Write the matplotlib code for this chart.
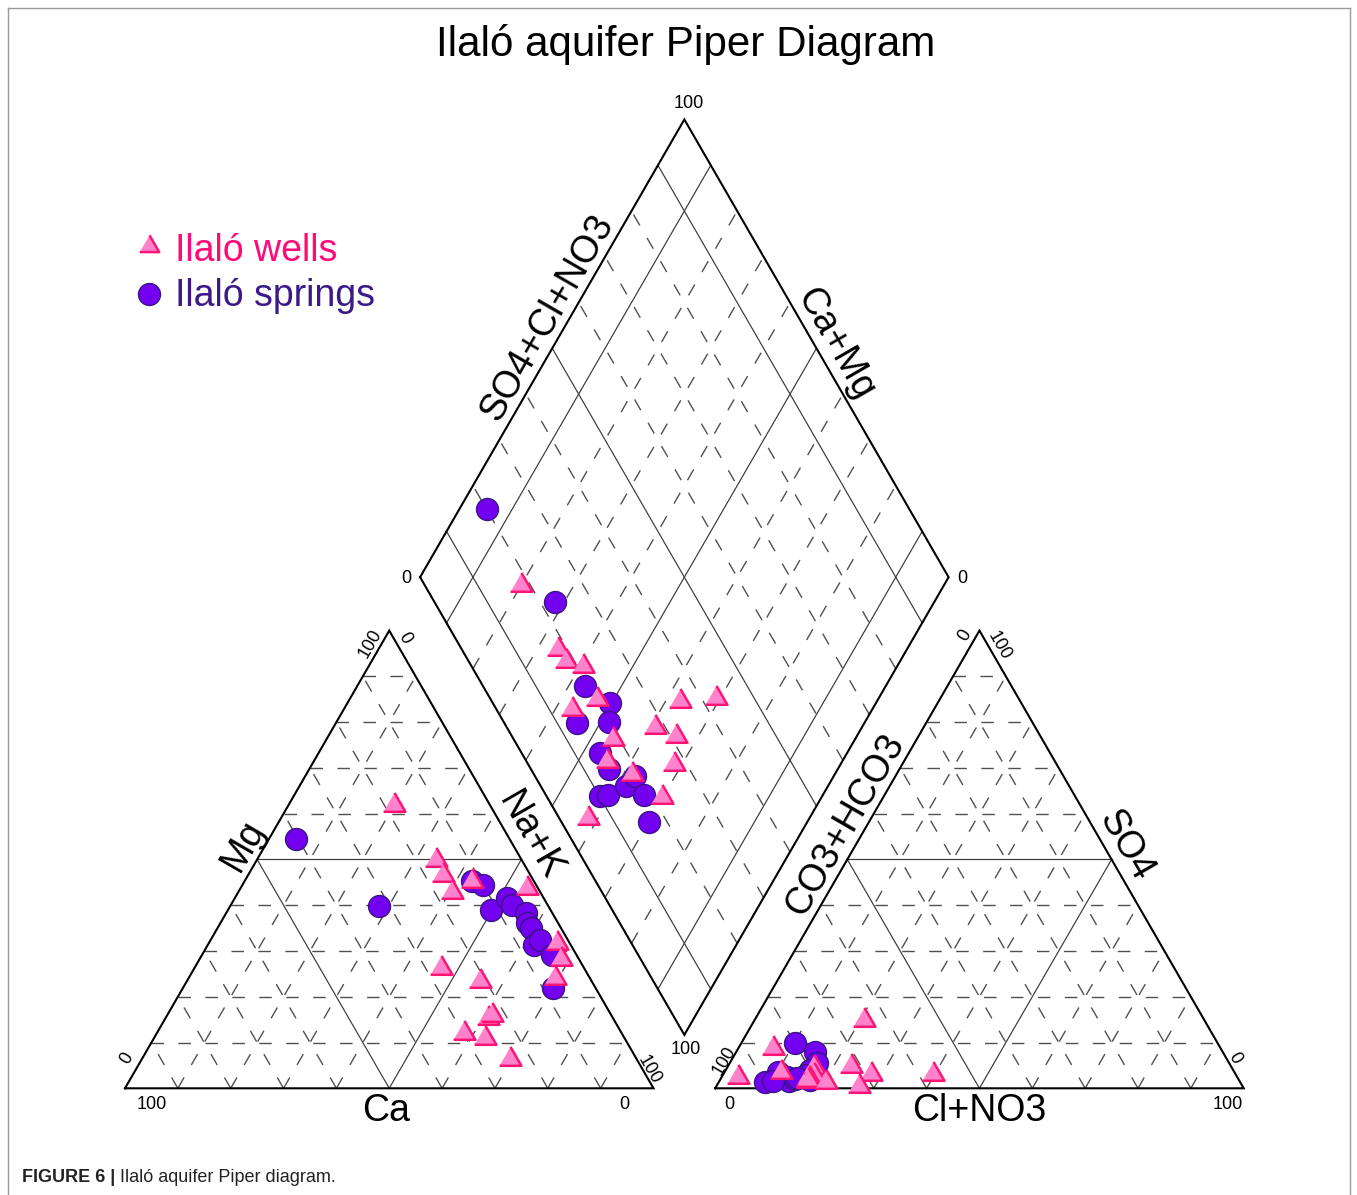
import matplotlib
matplotlib.use("Agg")
import matplotlib.pyplot as plt
import numpy as np

plt.rcParams['font.family'] = ['Liberation Sans', 'DejaVu Sans']
plt.rcParams['lines.scale_dashes'] = False

# ---------------- data (meq %) ----------------
wells_ca   = [18.1, 16.3, 16.6, 16.7, 11.7, 27.1, 2.1, 21.1, 29.9, 23.7, 22.5, 26.5, 2.4, 3.4, 6.7, 24.0]
wells_mg   = [61.9, 49.8, 46.6, 42.8, 45.2, 26.2, 43.7, 23.5, 12.0, 15.4, 16.0, 10.9, 31.8, 28.2, 24.0, 6.3]
wells_nak  = [20.0, 33.9, 36.8, 40.5, 43.1, 46.7, 54.2, 55.4, 58.1, 60.9, 61.5, 62.6, 65.8, 68.4, 69.3, 69.7]
wells_hco3 = [81.7, 81.9, 81.6, 78.9, 85.8, 79.9, 81.2, 84.8, 94.5, 71.9, 81.5, 64.4, 69.0, 72.5, 57.2, 78.3]
wells_so4  = [2.0, 1.5, 1.8, 4.7, 3.5, 3.0, 2.2, 8.7, 2.5, 4.9, 1.8, 14.9, 3.1, 0.4, 3.1, 1.4]
wells_cl   = [16.3, 16.6, 16.6, 16.4, 10.7, 17.1, 16.6, 6.5, 3.0, 23.2, 16.7, 20.7, 27.9, 27.1, 39.7, 20.3]

springs_ca   = [40.4, 31.9, 11.8, 10.1, 11.3, 7.0, 6.7, 4.9, 5.9, 5.6, 7.0, 5.3, 4.6, 8.0]
springs_mg   = [54.4, 39.9, 45.2, 44.4, 39.0, 41.5, 40.1, 38.3, 36.1, 35.0, 31.3, 32.4, 29.1, 21.9]
springs_nak  = [5.2, 28.2, 43.0, 45.5, 49.7, 51.5, 53.2, 56.8, 58.0, 59.4, 61.7, 62.3, 66.3, 70.1]
springs_hco3 = [80.0, 77.2, 80.7, 86.3, 77.9, 80.1, 85.2, 85.2, 89.8, 88.3, 83.9, 81.1, 81.4, 83.4]
springs_so4  = [9.8, 8.0, 3.0, 3.6, 5.5, 4.0, 2.5, 1.5, 1.4, 1.6, 2.0, 1.8, 2.8, 2.2]
springs_cl   = [10.2, 14.8, 16.3, 10.1, 16.6, 15.9, 12.3, 13.3, 8.8, 10.1, 14.1, 17.1, 15.8, 14.4]

series_names = ["Ilaló wells", "Ilaló springs"]
title_text = "Ilaló aquifer Piper Diagram"
caption_bold = "FIGURE 6 |"
caption_text = " Ilaló aquifer Piper diagram."

# ---------------- layout ----------------
FW, FH = 1357, 1195
fig = plt.figure(figsize=(FW / 100, FH / 100), dpi=100)
ax = fig.add_axes([0, 0, 1, 1])
ax.set_xlim(0, FW)
ax.set_ylim(FH, 0)
ax.axis('off')

SIDE = 528.5
TH = SIDE * np.sqrt(3) / 2
BASE_Y = 1088.3
CAT_X0 = 125.0
GAP = 61.7
AN_X0 = CAT_X0 + SIDE + GAP
DB = np.array([CAT_X0 + SIDE + GAP / 2, BASE_Y - GAP * np.sqrt(3) / 2])
DL = DB + np.array([-SIDE / 2, -TH])
DT = DB + np.array([0, -2 * TH])
DR = DB + np.array([SIDE / 2, -TH])


def tri_xy(x0, r, t):
    r = np.asarray(r, float)
    t = np.asarray(t, float)
    return x0 + r * SIDE + t * SIDE / 2, BASE_Y - t * TH


def dia_xy(u, v):
    u = np.asarray(u, float)
    v = np.asarray(v, float)
    p = DL[:, None] + np.outer(DB - DL, np.atleast_1d(u)) + np.outer(DT - DL, np.atleast_1d(v))
    return p[0], p[1]


DASH = dict(color='#505050', lw=1.0, linestyle=(0, (9.0, 10.4)), zorder=1)
SOLID = dict(color='#383838', lw=0.85, zorder=1.5)
EDGE = dict(color='black', lw=1.5, zorder=2, solid_joinstyle='miter')


def seg(p, q, style):
    ax.plot([p[0], q[0]], [p[1], q[1]], **style)


def draw_triangle(x0):
    for k in range(1, 10):
        f = k / 10
        st = SOLID if k == 5 else DASH
        seg(tri_xy(x0, 0, f), tri_xy(x0, 1 - f, f), st)
        seg(tri_xy(x0, f, 0), tri_xy(x0, 0, f), st)
        seg(tri_xy(x0, f, 0), tri_xy(x0, f, 1 - f), st)
    pts = [tri_xy(x0, 0, 0), tri_xy(x0, 1, 0), tri_xy(x0, 0, 1), tri_xy(x0, 0, 0)]
    ax.plot([p[0] for p in pts], [p[1] for p in pts], **EDGE)


def draw_diamond():
    for k in range(1, 10):
        f = k / 10
        st = SOLID if k in (1, 5, 9) else DASH
        a = dia_xy(f, 0); b = dia_xy(f, 1)
        seg((a[0][0], a[1][0]), (b[0][0], b[1][0]), st)
        a = dia_xy(1, f); b = dia_xy(0, f)
        seg((a[0][0], a[1][0]), (b[0][0], b[1][0]), st)
    pts = [DL, DT, DR, DB, DL]
    ax.plot([p[0] for p in pts], [p[1] for p in pts], **EDGE)


draw_triangle(CAT_X0)
draw_triangle(AN_X0)
draw_diamond()

# ---------------- data points ----------------
TRI = [(-1, -0.577), (1, -0.577), (0, 1.155)]
styles = {
    "wells": dict(marker=TRI, s=330, facecolor='#ff82cc', edgecolor='#ff1476', linewidths=1.8, zorder=6),
    "springs": dict(marker='o', s=250, facecolor='#7300ee', edgecolor='#3a1585', linewidths=1.0, zorder=5),
}


def plot_series(ca, mg, nak, hco3, so4, cl, st):
    ca, mg, nak = map(np.asarray, (ca, mg, nak))
    hco3, so4, cl = map(np.asarray, (hco3, so4, cl))
    ct = ca + mg + nak
    at = hco3 + so4 + cl
    n, m = nak / ct, mg / ct
    c, s = cl / at, so4 / at
    x, y = tri_xy(CAT_X0, n, m)
    ax.scatter(x, y, **st)
    x, y = tri_xy(AN_X0, c, s)
    ax.scatter(x, y, **st)
    x, y = dia_xy(n, c + s)
    ax.scatter(x, y, **st)


plot_series(springs_ca, springs_mg, springs_nak, springs_hco3, springs_so4, springs_cl, styles["springs"])
plot_series(wells_ca, wells_mg, wells_nak, wells_hco3, wells_so4, wells_cl, styles["wells"])

# ---------------- axis labels ----------------
LFS = 27


def edge_label(p0, p1, frac, text, rot, off=19):
    p0 = np.asarray(p0, float); p1 = np.asarray(p1, float)
    d = (p1 - p0) / np.linalg.norm(p1 - p0)
    nrm = np.array([d[1], -d[0]])
    if nrm[1] > 0:
        nrm = -nrm
    c = p0 + frac * (p1 - p0) + off * nrm
    ax.text(c[0], c[1], text, rotation=rot, rotation_mode='anchor',
            ha='center', va='center', fontsize=LFS, color='black')


cBL = np.array(tri_xy(CAT_X0, 0, 0)); cBR = np.array(tri_xy(CAT_X0, 1, 0)); cAP = np.array(tri_xy(CAT_X0, 0, 1))
aBL = np.array(tri_xy(AN_X0, 0, 0)); aBR = np.array(tri_xy(AN_X0, 1, 0)); aAP = np.array(tri_xy(AN_X0, 0, 1))

edge_label(cBL, cAP, 0.51, "Mg", 60)
edge_label(cAP, cBR, 0.47, "Na+K", -60)
edge_label(aBL, aAP, 0.555, "CO3+HCO3", 60)
edge_label(aAP, aBR, 0.49, "SO4", -60)
edge_label(DL, DT, 0.546, "SO4+Cl+NO3", 60)
edge_label(DT, DR, 0.51, "Ca+Mg", -60)
ax.text((cBL[0] + cBR[0]) / 2 - 3, BASE_Y + 23, "Ca", ha='center', va='center', fontsize=LFS)
ax.text((aBL[0] + aBR[0]) / 2, BASE_Y + 23, "Cl+NO3", ha='center', va='center', fontsize=LFS)

# ---------------- tick labels ----------------
TFS = 13


def tl(p, dx, dy, text, rot=0):
    ax.text(p[0] + dx, p[1] + dy, text, rotation=rot, rotation_mode='anchor',
            ha='center', va='center', fontsize=TFS)


tl(cBL, 27, 16, "100"); tl(cBR, -29, 16, "0")
tl(cBL, 2, -30, "0", 60); tl(cAP, -19, 13, "100", 60)
tl(cAP, 15, 8, "0", -60); tl(cBR, -4, -18, "100", -60)
tl(aBL, 14, 16, "0"); tl(aBR, -16, 16, "100")
tl(aBL, 9, -28, "100", 60); tl(aAP, -15, 5, "0", 60)
tl(aAP, 20, 15, "100", -60); tl(aBR, -9, -30, "0", -60)
tl(DT, 4, -16, "100"); tl(DB, 1, 15, "100")
tl(DL, -14, 1, "0"); tl(DR, 14, 1, "0")

# ---------------- title, legend, caption ----------------
ax.text(686, 44, title_text, ha='center', va='center', fontsize=30.3)

ax.scatter([149], [246], **{**styles["wells"], 's': 260})
ax.scatter([149], [294], **{**styles["springs"], 's': 250})
ax.text(175, 261, series_names[0], ha='left', va='baseline', fontsize=27, color='#ff0a78')
ax.text(175, 306, series_names[1], ha='left', va='baseline', fontsize=27, color='#3a1a8a')

# frame
ax.plot([8, 8], [8, FH], color='#9a9a9a', lw=1.0)
ax.plot([8, 1350], [8, 8], color='#9a9a9a', lw=1.0)
ax.plot([1350, 1350], [8, FH], color='#9a9a9a', lw=1.0)

t1 = ax.text(22, 1182, caption_bold, ha='left', va='baseline', fontsize=13,
             fontweight='bold', color='#222222')
fig.canvas.draw()
bb = t1.get_window_extent(renderer=fig.canvas.get_renderer())
x_end = ax.transData.inverted().transform((bb.x1, bb.y0))[0]
ax.text(x_end, 1182, caption_text, ha='left', va='baseline', fontsize=13, color='#222222')

fig.savefig("out.png", dpi=100)
